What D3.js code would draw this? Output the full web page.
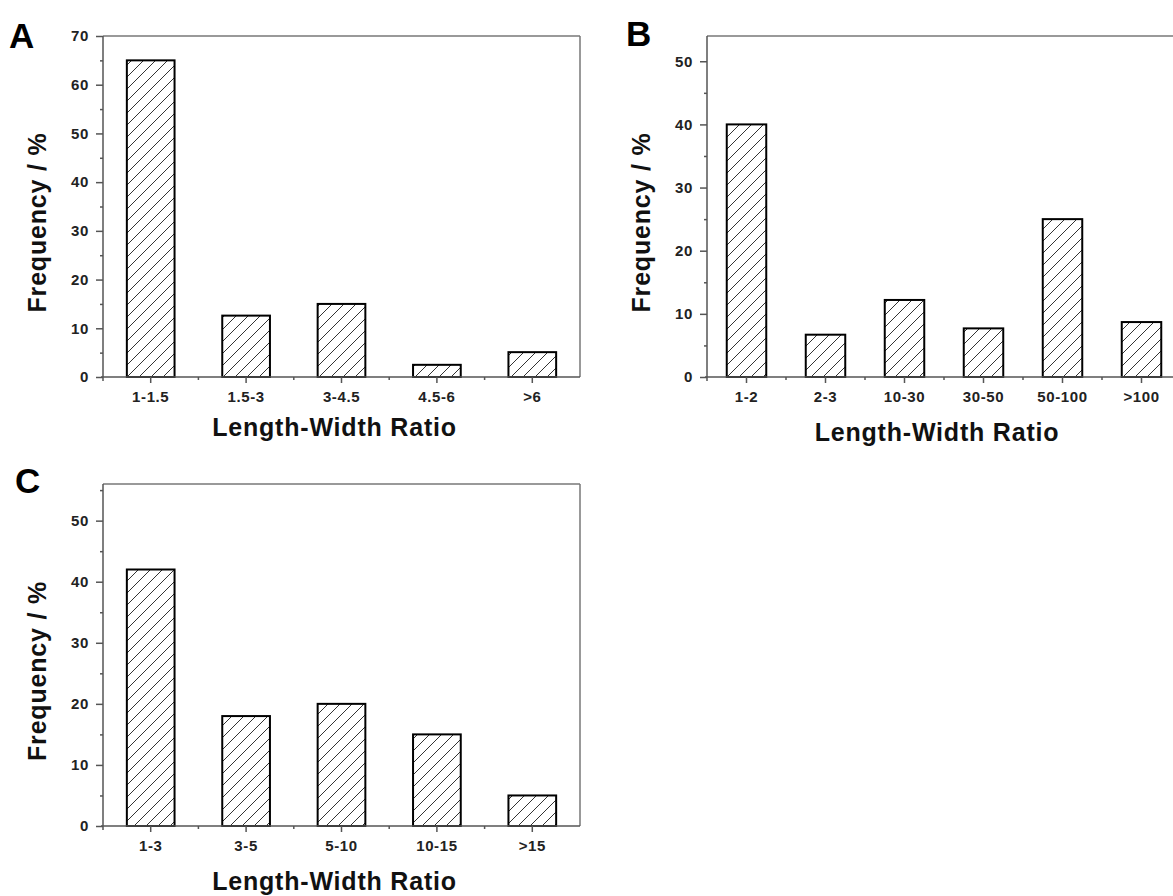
<!DOCTYPE html>
<html>
<head>
<meta charset="utf-8">
<script src="https://cdn.jsdelivr.net/npm/d3@7"></script>
<style>
  body { margin: 0; background: #fff; }
  text { font-family: "Liberation Sans", Arial, sans-serif; font-weight: bold; }
</style>
</head>
<body>
<div id="viz"></div>
<script>
// data
const catsA = ['1-1.5', '1.5-3', '3-4.5', '4.5-6', '>6'];
const freqA = [65, 12.6, 15, 2.5, 5.1];
const yTicksA = [0, 10, 20, 30, 40, 50, 60, 70];

const catsB = ['1-2', '2-3', '10-30', '30-50', '50-100', '>100'];
const freqB = [40, 6.7, 12.2, 7.7, 25, 8.7];
const yTicksB = [0, 10, 20, 30, 40, 50];

const catsC = ['1-3', '3-5', '5-10', '10-15', '>15'];
const freqC = [42, 18, 20, 15, 5];
const yTicksC = [0, 10, 20, 30, 40, 50];

const width = 1173, height = 896;

const svg = d3.select('#viz')
    .append('svg')
    .attr('width', width)
    .attr('height', height);

// diagonal hatch fill
svg.append('defs')
    .append('pattern')
    .attr('id', 'hatch')
    .attr('patternUnits', 'userSpaceOnUse')
    .attr('width', 12)
    .attr('height', 12)
    .append('path')
    .attr('d', 'M0,12 L12,0 M-3,3 L3,-3 M9,15 L15,9')
    .attr('stroke', '#333')
    .attr('stroke-width', 1);

function drawPanel(p) {
    const g = svg.append('g');

    let x = d3.scaleBand()
        .domain(p.cats)
        .range([p.left, p.right])
        .paddingInner(.5)
        .paddingOuter(.25);

    let y = d3.scaleLinear()
        .domain([0, p.yMax])
        .range([p.bottom, p.top]);

    // box top / right
    g.append('line')
        .attr('x1', p.left).attr('x2', p.right)
        .attr('y1', p.top).attr('y2', p.top)
        .attr('stroke', '#777').attr('stroke-width', 1.5);
    g.append('line')
        .attr('x1', p.right).attr('x2', p.right)
        .attr('y1', p.top).attr('y2', p.bottom)
        .attr('stroke', '#777').attr('stroke-width', 1.5);

    // bars
    g.selectAll('rect.bar').data(p.vals)
        .enter()
        .append('rect')
        .attr('class', 'bar')
        .attr('x', (d, i) => x(p.cats[i]))
        .attr('width', x.bandwidth())
        .attr('y', d => y(d))
        .attr('height', d => y(0) - y(d))
        .attr('fill', 'url(#hatch)')
        .attr('stroke', '#000')
        .attr('stroke-width', 2);

    // y minor ticks
    const minor = d3.range(5, p.yMax, 10);
    g.append('g')
        .attr('transform', `translate(${p.left},0)`)
        .call(d3.axisLeft(y).tickValues(minor).tickSize(3).tickFormat(''))
        .call(a => a.select('.domain').remove())
        .selectAll('line').attr('stroke', '#555').attr('stroke-width', 1.5);

    // y axis (line runs a little past the x axis, like the original)
    const ya = g.append('g')
        .attr('transform', `translate(${p.left},0)`)
        .call(d3.axisLeft(y).tickValues(p.yTicks).tickSize(7).tickSizeOuter(0).tickPadding(7));
    ya.select('.domain').attr('stroke', '#555').attr('stroke-width', 1.5)
        .attr('d', `M0,${p.bottom + 4}V${p.top}`);
    ya.selectAll('line').attr('stroke', '#555').attr('stroke-width', 1.5);
    ya.selectAll('text')
        .attr('fill', '#222')
        .style('font-size', '15px')
        .style('letter-spacing', '0.6px');

    // x minor ticks at the category boundaries
    const gap = (x.step() - x.bandwidth()) / 2;
    g.selectAll('line.xminor').data(p.cats.slice(1))
        .enter()
        .append('line')
        .attr('class', 'xminor')
        .attr('x1', d => x(d) - gap).attr('x2', d => x(d) - gap)
        .attr('y1', p.bottom).attr('y2', p.bottom + 3)
        .attr('stroke', '#555').attr('stroke-width', 1.5);

    // x axis
    const xa = g.append('g')
        .attr('transform', `translate(0,${p.bottom})`)
        .call(d3.axisBottom(x).tickSize(6).tickSizeOuter(0).tickPadding(8));
    xa.select('.domain').attr('stroke', '#555').attr('stroke-width', 1.5)
        .attr('d', `M${p.left - 2},0H${p.right}`);
    xa.selectAll('line').attr('stroke', '#555').attr('stroke-width', 1.5);
    xa.selectAll('text')
        .attr('fill', '#222')
        .style('font-size', '15px')
        .style('letter-spacing', '0.6px');

    // axis titles
    g.append('text')
        .attr('x', (p.left + p.right) / 2 - 7)
        .attr('y', p.bottom + p.titleDy)
        .attr('text-anchor', 'middle')
        .attr('fill', '#111')
        .style('font-size', '25px')
        .style('letter-spacing', '0.8px')
        .text('Length-Width Ratio');

    g.append('text')
        .attr('transform', `translate(${p.left - 57},${(p.top + p.bottom) / 2 + 16}) rotate(-90)`)
        .attr('text-anchor', 'middle')
        .attr('fill', '#111')
        .style('font-size', '25px')
        .style('letter-spacing', '0.8px')
        .text('Frequency / %');

    // panel letter
    g.append('text')
        .attr('x', p.letterX)
        .attr('y', p.letterY)
        .attr('fill', '#000')
        .style('font-size', '35px')
        .text(p.letter);
}

drawPanel({ cats: catsA, vals: freqA, yTicks: yTicksA, yMax: 70, titleDy: 59,
    left: 103, right: 580, top: 36, bottom: 377, letter: 'A', letterX: 9, letterY: 48 });
drawPanel({ cats: catsB, vals: freqB, yTicks: yTicksB, yMax: 54, titleDy: 64,
    left: 707, right: 1181, top: 36, bottom: 377, letter: 'B', letterX: 626, letterY: 46 });
drawPanel({ cats: catsC, vals: freqC, yTicks: yTicksC, yMax: 56, titleDy: 64,
    left: 103, right: 580, top: 484, bottom: 826, letter: 'C', letterX: 15, letterY: 493 });
</script>
</body>
</html>
